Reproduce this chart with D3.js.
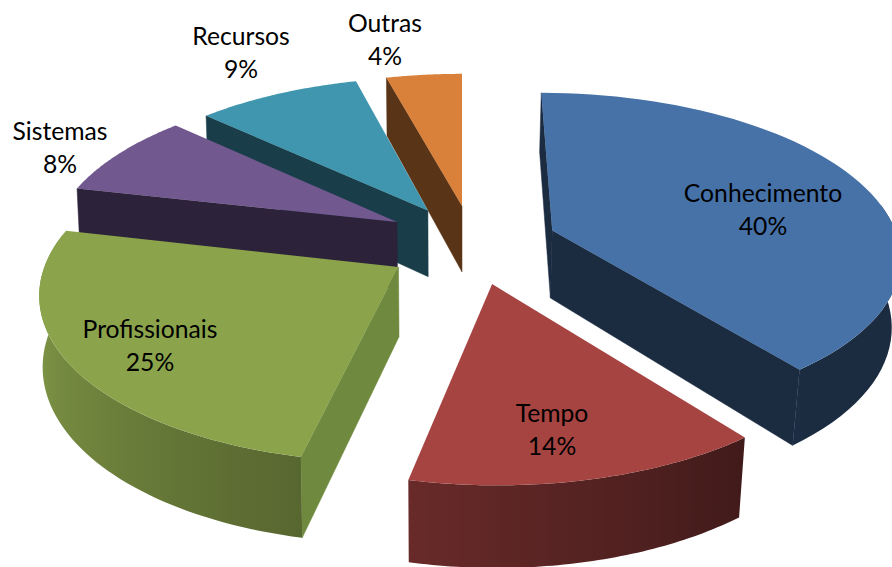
<!DOCTYPE html>
<html>
<head>
<meta charset="utf-8">
<script src="https://cdn.jsdelivr.net/npm/d3@7"></script>
<style>
  html, body { margin: 0; padding: 0; background: #fff; }
  svg { display: block; }
  text { font-family: Lato, "Open Sans", sans-serif; font-size: 24.7px; fill: #000; text-anchor: middle; }
</style>
</head>
<body>
<div id="chart"></div>
<script>
// Chart values (labels show them rounded)
const categories = ["Conhecimento", "Tempo", "Profissionais", "Sistemas", "Recursos", "Outras"];
const shares = [39.5, 13.9, 25.2, 8.4, 8.9, 4.1];

// Slice colours
const topColors = ["#4672a8", "#a64442", "#8ba44c", "#71588f", "#3f96ae", "#d9813a"];
const faceColors = ["#1b2b40", "#421b18", "#6f8a3e", "#2c223a", "#193e4a", "#5a3416"];

// Where each exploded slice's tip ends up on the pie plane
const tipX = [91, 29, -62, -66, -35, 0];
const tipZ = [22, -98, -61, 42, 70, 81];

// Label anchors (centre x, first baseline)
const labelAnchors = [[763, 202], [552, 422], [150, 338], [60, 140], [241, 45], [385, 32]];

const width = 892;
const height = 567;

// Perspective set-up of the pie plane
const cx = 462;
const vanishY = -900;
const planeY = 240;
const thickness = 68;
const q = 3.8e-4;
const radiusX = 346;
const radiusZ = 368;
// walls narrow slightly going down, more on the right than the left
const taperRight = 0.0003;
const taperLeft = 0.00012;

const svg = d3.select("#chart")
  .append("svg")
  .attr("width", width)
  .attr("height", height);

const defs = svg.append("defs");

// Ground point (X right, Z away from viewer) to screen, depth d below the top
function project(X, Z, d) {
  const s = 1 / (1 + q * Z);
  const taper = X > 0 ? taperRight : taperLeft;
  return [cx + X * s * (1 - d * taper), vanishY + (planeY + d - vanishY) * s];
}

const arcs = d3.pie().sort(null)(shares);
const line = d3.line();

// Wall brightness by direction around the pie
const wallShade = d3.scaleLinear()
  .domain([90, 140, 191, 200, 230, 260, 290])
  .range([0.38, 0.38, 0.62, 0.66, 0.8, 0.92, 1])
  .clamp(true);

const slices = arcs.map((a, i) => {
  const start = a.startAngle;
  const end = a.endAngle;
  const ox = tipX[i];
  const oz = tipZ[i];
  const rim = d3.range(0, 61).map(k => {
    const b = start + (end - start) * k / 60;
    return { b, X: ox + radiusX * Math.sin(b), Z: oz + radiusZ * Math.cos(b) };
  });
  return { i, ox, oz, rim };
});

// Far slices first so the near ones paint over them
slices.sort((a, b) => b.oz - a.oz);

slices.forEach(sl => {
  const g = svg.append("g");
  const first = sl.rim[0];
  const last = sl.rim[sl.rim.length - 1];

  // Radial faces: keep only those turned to the viewer
  const faceA = [project(sl.ox, sl.oz, 0), project(first.X, first.Z, 0),
                 project(first.X, first.Z, thickness), project(sl.ox, sl.oz, thickness)];
  const faceB = [project(last.X, last.Z, 0), project(sl.ox, sl.oz, 0),
                 project(sl.ox, sl.oz, thickness), project(last.X, last.Z, thickness)];
  [faceA, faceB].forEach(f => {
    if (d3.polygonArea(f) > 0) {
      g.append("path")
        .attr("d", line(f) + "Z")
        .attr("fill", faceColors[sl.i])
        .attr("stroke", faceColors[sl.i])
        .attr("stroke-width", 0.5);
    }
  });

  // Outer wall: one path for the part of the rim facing the viewer,
  // shaded with a horizontal gradient
  const front = sl.rim.filter(p => Math.cos(p.b) < 0.2);
  if (front.length > 1) {
    const base = d3.rgb(topColors[sl.i]);
    const xs = front.map(p => project(p.X, p.Z, 0)[0]);
    const x1 = xs[0];
    // the rim can turn back at the far side, stop the gradient at the extreme x
    const endIndex = d3.greatestIndex(xs, x => Math.abs(x - x1));
    const x2 = xs[endIndex];
    const grad = defs.append("linearGradient")
      .attr("id", "wall" + sl.i)
      .attr("gradientUnits", "userSpaceOnUse")
      .attr("x1", x1).attr("x2", x2)
      .attr("y1", 0).attr("y2", 0);
    front.slice(0, endIndex + 1).forEach((p, k) => {
      const f = wallShade((p.b * 180) / Math.PI);
      grad.append("stop")
        .attr("offset", (xs[k] - x1) / (x2 - x1))
        .attr("stop-color", d3.rgb(base.r * f, base.g * f, base.b * f).formatHex());
    });
    const upper = front.map(p => project(p.X, p.Z, 0));
    const lower = front.map(p => project(p.X, p.Z, thickness)).reverse();
    g.append("path")
      .attr("d", line(upper.concat(lower)) + "Z")
      .attr("fill", `url(#wall${sl.i})`);
  }

  // Top face
  const top = [project(sl.ox, sl.oz, 0)].concat(sl.rim.map(p => project(p.X, p.Z, 0)));
  g.append("path")
    .attr("d", line(top) + "Z")
    .attr("fill", topColors[sl.i]);
});

// Labels on top of everything
categories.forEach((name, i) => {
  svg.append("text")
    .attr("x", labelAnchors[i][0])
    .attr("y", labelAnchors[i][1])
    .text(name);
  svg.append("text")
    .attr("x", labelAnchors[i][0])
    .attr("y", labelAnchors[i][1] + 33)
    .text(Math.round(shares[i]) + "%");
});
</script>
</body>
</html>
